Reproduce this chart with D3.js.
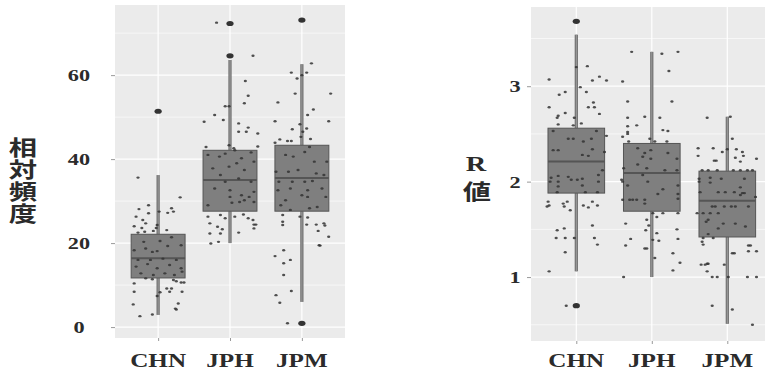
<!DOCTYPE html>
<html>
<head>
<meta charset="utf-8">
<script src="https://cdn.jsdelivr.net/npm/d3@7"></script>
<style>
  body { margin: 0; background: #fff; }
  svg { display: block; }
  .tick-label, .cat-label { font-family: "Liberation Serif", "DejaVu Serif", serif; font-weight: bold; fill: #2b2b2b; }
  .cjk { font-family: "Noto Sans CJK JP", sans-serif; font-weight: bold; fill: #2b2b2b; }
</style>
</head>
<body>
<svg id="chart" width="765" height="374"></svg>
<script>
var categories = ["CHN", "JPH", "JPM"];

// left panel: relative frequency
var freqTicks = [0, 20, 40, 60];
var freqMinor = [10, 30, 50, 70];
var freqQ1 = [11.7, 27.6, 27.6];
var freqMedian = [16.4, 35.0, 35.5];
var freqQ3 = [22.1, 42.1, 43.3];
var freqLower = [2.9, 20.0, 6.0];
var freqUpper = [36.2, 63.6, 62.6];
var freqOutliers = [[51.4], [64.6, 72.3], [0.9, 73.1]];

// jittered points: [jitter, value]
var freqCHN = [[-21,35.6],[23,30.9],[-10,29.0],[-20,28.1],[14,28.3],[16,27.5],[-10,27.1],[1,27.5],[10,27.2],[-23,26.3],
  [-16,25.5],[-25,24.0],[-13,24.7],[-17,23.6],[-1,24.3],[-2,23.6],[-14,22.7],[-21,22.5],[9,23.1],[-5,22.9],[14,21.4],
  [-15,20.3],[-25,18.3],[-13,18.7],[2,20.5],[-6,17.9],[-1,18.1],[10,19.3],[24,19.5],[-21,16],[-8,16],[5,16.3],[19,16],
  [-23,14.4],[-11,15],[-1,14],[12,14.8],[24,14],[-18,12.8],[-5,12.4],[7,12.8],[17,12.4],[25,13.2],[-13,11.6],[-25,10.4],
  [-6,11.4],[16,11.2],[19,10.9],[24,10.6],[27,10.6],[9,9.2],[14,9.2],[-25,8.4],[2,8.3],[12,8.4],[25,8.4],[-1,7.4],
  [-26,5.4],[21,5.6],[18,4.4],[19,4.2],[-19,2.6],[-6,3.0]];
var freqJPH = [[-14,72.5],[24,64.6],[16,58.6],[19,55.1],[15,53.3],[-5,52.6],[-1,52.6],[-16,50.5],[-27,48.9],[-7,49.3],
  [9,48.5],[19,47.5],[9,46.5],[17,46.5],[29,46.1],[-25,42.9],[29,43],[-1,43.3],[4,42.6],[5,42.1],[-23,41.0],[-11,40.6],
  [-5,41.3],[12,40.2],[22,41.6],[25,39.4],[7,39.0],[-18,37.8],[-1,38.2],[15,37.4],[-10,36.2],[-5,34.6],[9,35.4],[22,34.6],
  [-16,33.0],[0,32.6],[25,32.2],[0,31.0],[12,31.4],[20,31.0],[10,29.8],[25,29.8],[-23,29.0],[15,30.2],[2,29.6],
  [-23,26.3],[-10,26.7],[-5,25.9],[5,26.3],[14,26.8],[19,25.9],[24,25.5],[25,24.4],[27,24.4],[-21,24.7],[-13,23.9],
  [-8,23.3],[25,23.5],[-21,22.3],[-10,22.3],[9,22.5],[-20,19.9],[-12,20.3]];
var freqJPM = [[10,62.8],[-11,60.6],[5,60.6],[-5,59.2],[0,60],[-7,55.6],[30,55.6],[-25,53.5],[12,51.8],[6,50.5],
  [-28,49.0],[28,49.0],[-2,48.3],[-10,47.1],[5,47.3],[1,46.5],[-1,45.3],[-23,44.7],[-15,44.3],[-11,44.3],[-28,43.9],
  [9,44.8],[-17,41.0],[-9,40.6],[3,41.7],[8,42.9],[13,39.4],[26,39.4],[-27,37.0],[-14,37.0],[-4,37.4],[15,36.6],[23,36.2],
  [-24,34.6],[-10,34.6],[3,34.6],[11,34.8],[-25,32.6],[-12,33.0],[6,32.6],[21,33.0],[0,31.4],[-17,30.2],[6,31.0],[25,31.0],
  [-22,29.0],[8,28.3],[16,28.6],[-12,27.9],[-20,26.7],[-2,26.3],[6,26.1],[-20,25.1],[-20,24.3],[5,24.4],[15,24.4],
  [23,24.7],[24,24.2],[17,22.9],[28,21.5],[18,19.5],[19,19.4],[-28,16.9],[-19,18.3],[-19,15.2],[-12,16.0],[-19,12.4],
  [-11,8.6],[-27,7.6],[-23,5.8],[-15,0.9]];

// right panel: R value
var rTicks = [1, 2, 3];
var rMinor = [0.5, 1.5, 2.5, 3.5];
var rQ1 = [1.88, 1.69, 1.42];
var rMedian = [2.21, 2.09, 1.80];
var rQ3 = [2.56, 2.40, 2.11];
var rLower = [1.06, 1.00, 0.51];
var rUpper = [3.54, 3.36, 2.68];
var rOutliers = [[3.68, 0.70], [], []];

var rCHN = [[11,3.21],[0,3.20],[-27,3.07],[23,3.10],[30,3.06],[16,3.06],[4,2.99],[-11,2.94],[-17,2.91],[10,2.94],
  [17,2.83],[-27,2.78],[12,2.78],[18,2.78],[23,2.71],[-11,2.72],[-18,2.69],[-19,2.67],[-2,2.67],[-18,2.60],[-3,2.59],
  [5,2.61],[-23,2.53],[-8,2.45],[-3,2.45],[7,2.42],[15,2.45],[20,2.53],[30,2.48],[-23,2.33],[-18,2.33],[6,2.28],[12,2.27],
  [16,2.34],[28,2.31],[26,2.12],[-25,2.04],[-18,2.06],[-8,2.05],[-5,2.02],[1,2.02],[6,2.03],[22,2.07],[22,2.00],
  [-26,2.00],[-18,2.00],[6,1.96],[-18,1.95],[-19,1.89],[9,1.89],[21,1.89],[-28,1.79],[-29,1.74],[-27,1.75],[-13,1.77],
  [-9,1.79],[-12,1.74],[-6,1.70],[7,1.75],[12,1.73],[16,1.79],[21,1.75],[16,1.54],[-12,1.51],[-19,1.49],[-20,1.41],
  [-11,1.41],[-2,1.41],[18,1.41],[21,1.34],[-11,1.26],[-27,1.06],[-10,0.70]];
var rJPH = [[-20,3.36],[10,3.34],[26,3.36],[17,3.16],[-29,3.05],[-24,2.84],[20,2.84],[-24,2.67],[-7,2.68],[8,2.67],
  [-24,2.58],[-15,2.59],[11,2.54],[16,2.53],[-24,2.52],[-24,2.50],[-29,2.47],[-2,2.45],[3,2.42],[-23,2.42],[15,2.42],
  [-14,2.35],[-7,2.30],[-1,2.33],[-9,2.26],[-1,2.24],[16,2.30],[25,2.24],[-14,2.18],[-28,2.14],[-5,2.14],[13,2.12],
  [25,2.12],[-9,2.07],[-30,2.02],[-29,2.00],[-4,2.00],[26,1.96],[-24,1.96],[11,1.92],[6,1.87],[26,1.87],[-29,1.81],
  [-22,1.81],[-19,1.81],[-15,1.81],[-7,1.81],[-7,1.77],[26,1.82],[1,1.67],[5,1.63],[11,1.67],[26,1.67],[-26,1.56],
  [-5,1.60],[-3,1.54],[-6,1.49],[25,1.50],[5,1.46],[-21,1.40],[1,1.39],[7,1.38],[26,1.40],[-26,1.33],[-7,1.30],[-5,1.30],
  [21,1.25],[3,1.20],[28,1.15],[21,1.07],[-28,1.00]];
var rJPM = [[-20,2.67],[3,2.68],[5,2.45],[-29,2.35],[-14,2.35],[0,2.34],[-5,2.31],[9,2.34],[15,2.31],[-29,2.27],
  [8,2.25],[16,2.27],[29,2.24],[-13,2.22],[-11,2.22],[13,2.21],[-25,2.12],[-19,2.12],[-10,2.12],[6,2.12],[13,2.12],
  [20,2.12],[25,2.12],[-28,2.03],[-28,2.00],[-17,2.04],[-6,2.03],[17,2.03],[-17,1.99],[13,1.94],[-27,1.89],[-9,1.89],
  [-2,1.89],[7,1.89],[15,1.88],[17,1.88],[13,1.86],[28,1.84],[-15,1.74],[-12,1.74],[-3,1.74],[4,1.74],[8,1.74],[21,1.74],
  [-30,1.67],[-24,1.67],[-17,1.67],[-9,1.67],[-19,1.60],[-21,1.58],[-4,1.56],[8,1.56],[-9,1.51],[18,1.53],[-19,1.45],
  [-24,1.41],[-14,1.41],[-25,1.37],[-24,1.34],[5,1.25],[7,1.25],[21,1.33],[23,1.33],[21,1.27],[29,1.27],[-20,1.14],
  [-19,1.14],[-26,1.13],[-22,1.13],[-3,1.13],[-20,1.06],[-15,1.0],[-10,1.0],[1,1.0],[20,1.0],[29,1.0],[-15,0.70],
  [5,0.66],[25,0.50]];

var svg = d3.select("#chart");
var stretch = 1.35;   // the figure's text is wider than tall

function drawPanel(p) {
  var x = d3.scalePoint().domain(categories).range([p.left, p.right]).padding(0.6);
  var y = d3.scaleLinear().domain(p.domain).range([p.bottom, p.top]);
  var step = x.step();
  var boxW = step * 0.75;
  var jit = d3.scaleLinear().domain([-30, 30]).range([-0.4 * step, 0.4 * step]);

  var g = svg.append("g");

  g.append("rect")
    .attr("x", p.left).attr("y", p.top)
    .attr("width", p.right - p.left).attr("height", p.bottom - p.top)
    .attr("fill", "#ebebeb");

  g.selectAll(".minor").data(p.minor).enter().append("line")
    .attr("x1", p.left).attr("x2", p.right)
    .attr("y1", function (d) { return y(d); }).attr("y2", function (d) { return y(d); })
    .attr("stroke", "#fff").attr("stroke-width", 0.6);

  g.selectAll(".major").data(p.ticks).enter().append("line")
    .attr("x1", p.left).attr("x2", p.right)
    .attr("y1", function (d) { return y(d); }).attr("y2", function (d) { return y(d); })
    .attr("stroke", "#fff").attr("stroke-width", 1.2);

  g.selectAll(".vgrid").data(categories).enter().append("line")
    .attr("x1", function (d) { return x(d); }).attr("x2", function (d) { return x(d); })
    .attr("y1", p.top).attr("y2", p.bottom)
    .attr("stroke", "#fff").attr("stroke-width", 1.2);

  // axes
  var yAxis = g.append("g")
    .attr("transform", "translate(" + p.left + ",0)")
    .call(d3.axisLeft(y).tickValues(p.ticks).tickSize(4).tickFormat(""));
  yAxis.select(".domain").remove();
  yAxis.selectAll("line").attr("stroke", "#999");

  var xAxis = g.append("g")
    .attr("transform", "translate(0," + p.bottom + ")")
    .call(d3.axisBottom(x).tickSize(3).tickFormat(""));
  xAxis.select(".domain").remove();
  xAxis.selectAll("line").attr("stroke", "#999");

  g.selectAll(".tick-label").data(p.ticks).enter().append("text")
    .attr("class", "tick-label")
    .attr("transform", function (d) { return "translate(" + p.tickX + "," + (y(d) + 6) + ") scale(" + stretch + ",1)"; })
    .attr("text-anchor", "middle")
    .attr("font-size", 16.5)
    .text(function (d) { return d; });

  g.selectAll(".cat-label").data(categories).enter().append("text")
    .attr("class", "cat-label")
    .attr("transform", function (d) { return "translate(" + x(d) + ",367) scale(1.4,1)"; })
    .attr("text-anchor", "middle")
    .attr("font-size", 18)
    .text(function (d) { return d; });

  // boxes
  categories.forEach(function (c, i) {
    var cx = x(c);
    [[p.q3[i], p.upper[i]], [p.q1[i], p.lower[i]]].forEach(function (w) {
      g.append("line").attr("x1", cx).attr("x2", cx)
        .attr("y1", y(w[0])).attr("y2", y(w[1]))
        .attr("stroke", "#6a6a6a").attr("stroke-width", 3.2);
      g.append("line").attr("x1", cx).attr("x2", cx)
        .attr("y1", y(w[0])).attr("y2", y(w[1]))
        .attr("stroke", "#9a9a9a").attr("stroke-width", 1.2);
    });
    g.append("rect")
      .attr("x", cx - boxW / 2).attr("y", y(p.q3[i]))
      .attr("width", boxW).attr("height", y(p.q1[i]) - y(p.q3[i]))
      .attr("fill", "#7f7f7f").attr("stroke", "#555").attr("stroke-width", 1);
    g.append("line")
      .attr("x1", cx - boxW / 2).attr("x2", cx + boxW / 2)
      .attr("y1", y(p.median[i])).attr("y2", y(p.median[i]))
      .attr("stroke", "#555").attr("stroke-width", 2);
    g.selectAll(null).data(p.outliers[i]).enter().append("ellipse")
      .attr("cx", cx).attr("cy", function (d) { return y(d); })
      .attr("rx", 3.6).attr("ry", 2.6)
      .attr("fill", "#333");
  });

  // jittered points
  categories.forEach(function (c, i) {
    g.selectAll(null).data(p.points[i]).enter().append("ellipse")
      .attr("cx", function (d) { return x(c) + jit(d[0]); })
      .attr("cy", function (d) { return y(d[1]); })
      .attr("rx", 1.6).attr("ry", 1.2)
      .attr("fill", "#333").attr("fill-opacity", 0.85);
  });

  return g;
}

drawPanel({
  left: 115, right: 345, top: 5, bottom: 338, domain: [-2.6, 76.7],
  ticks: freqTicks, minor: freqMinor, tickX: 79,
  q1: freqQ1, median: freqMedian, q3: freqQ3, lower: freqLower, upper: freqUpper,
  outliers: freqOutliers, points: [freqCHN, freqJPH, freqJPM]
});

drawPanel({
  left: 531, right: 772.6, top: 7, bottom: 341, domain: [0.33, 3.83],
  ticks: rTicks, minor: rMinor, tickX: 515,
  q1: rQ1, median: rMedian, q3: rQ3, lower: rLower, upper: rUpper,
  outliers: rOutliers, points: [rCHN, rJPH, rJPM]
});

// left axis title, written top to bottom
svg.append("text")
  .attr("class", "cjk")
  .attr("transform", "translate(23,137) scale(" + stretch + ",1)")
  .attr("font-size", 21)
  .style("writing-mode", "vertical-rl")
  .style("letter-spacing", "0.7px")
  .text("相対頻度");

svg.append("text")
  .attr("class", "cjk")
  .attr("transform", "translate(476,171) scale(" + stretch + ",1)")
  .attr("text-anchor", "middle")
  .attr("font-size", 21)
  .call(function (t) {
    t.append("tspan").attr("x", 0).attr("y", 0)
      .style("font-family", '"Liberation Serif", "DejaVu Serif", serif').text("R");
    t.append("tspan").attr("x", 0.7).attr("y", 28).text("値");
  });
</script>
</body>
</html>
